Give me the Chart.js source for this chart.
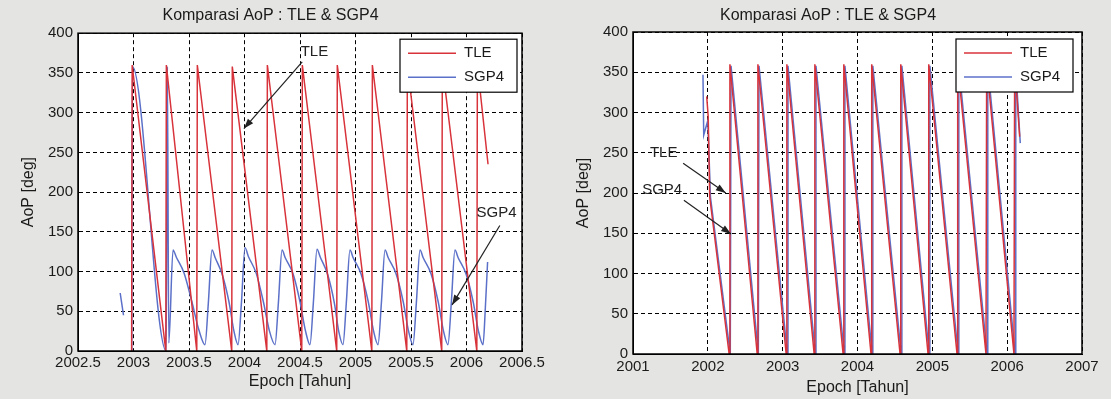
<!DOCTYPE html>
<html>
<head>
<meta charset="utf-8">
<script src="https://cdn.jsdelivr.net/npm/chart.js@4"></script>
<style>
  body { margin: 0; background: #e4e4e2; }
  #wrap { position: relative; width: 1111px; height: 399px; }
  canvas { position: absolute; top: 0; }
  #left { left: 0; }
  #right { left: 555px; }
</style>
</head>
<body>
<div id="wrap">
  <canvas id="left" width="555" height="399"></canvas>
  <canvas id="right" width="556" height="399"></canvas>
</div>
<script>
// text + ticks
const titleText = 'Komparasi AoP : TLE & SGP4'
const xTitle = 'Epoch [Tahun]'
const yTitle = 'AoP [deg]'
const seriesNames = ['TLE', 'SGP4']
const yTicks = [0, 50, 100, 150, 200, 250, 300, 350, 400]
const leftXTicks = [2002.5, 2003, 2003.5, 2004, 2004.5, 2005, 2005.5, 2006, 2006.5]
const leftXLabels = ['2002.5', '2003', '2003.5', '2004', '2004.5', '2005', '2005.5', '2006', '2006.5']
const rightXTicks = [2001, 2002, 2003, 2004, 2005, 2006, 2007]
const rightXLabels = ['2001', '2002', '2003', '2004', '2005', '2006', '2007']

// left chart, TLE (sawtooth)
const leftTleX = [2002.983, 2002.988, 2003.291, 2003.296, 2003.570, 2003.575, 2003.885, 2003.890,
  2004.201, 2004.206, 2004.516, 2004.521, 2004.831, 2004.836, 2005.147, 2005.152,
  2005.462, 2005.467, 2005.777, 2005.782, 2006.093, 2006.098, 2006.194]
const leftTleY = [0, 360, 0, 360, 0, 360, 0, 358,
  0, 360, 0, 360, 0, 360, 0, 360,
  0, 360, 0, 360, 0, 360, 235]

// left chart, SGP4
const leftSgpX = [2002.88, 2002.91, 2002.95, 2002.985, 2002.99, 2003.295, 2003.305, 2003.318,
  2003.356, 2003.386, 2003.456, 2003.526, 2003.59, 2003.644, 2003.674,
  2003.707, 2003.737, 2003.80, 2003.86, 2003.905, 2003.942, 2003.972,
  2004.005, 2004.035, 2004.105, 2004.17, 2004.225, 2004.275, 2004.305,
  2004.338, 2004.368, 2004.438, 2004.50, 2004.55, 2004.59, 2004.62,
  2004.653, 2004.683, 2004.75, 2004.81, 2004.85, 2004.887, 2004.917,
  2004.950, 2004.98, 2005.05, 2005.115, 2005.163, 2005.203, 2005.233,
  2005.266, 2005.296, 2005.366, 2005.43, 2005.478, 2005.518, 2005.548,
  2005.581, 2005.611, 2005.681, 2005.745, 2005.793, 2005.833, 2005.863,
  2005.896, 2005.926, 2005.996, 2006.06, 2006.108, 2006.149, 2006.17, 2006.19]
const leftSgpY = [73, 45, null, 0, 358, 0, 358, 10,
  127, 118, 98, 62, 26, 8, 60,
  127, 117, 96, 62, 25, 8, 60,
  130, 119, 98, 62, 25, 8, 60,
  127, 117, 97, 62, 25, 8, 60,
  128, 118, 96, 60, 24, 8, 60,
  127, 117, 97, 62, 25, 8, 60,
  127, 117, 97, 62, 25, 8, 60,
  127, 117, 97, 62, 25, 8, 60,
  127, 117, 97, 62, 25, 8, 55, 112]

// right chart, TLE
const rightTleX = [2001.985, 2002.005, 2002.025, 2002.285, 2002.295, 2002.660, 2002.669,
  2003.047, 2003.056, 2003.421, 2003.430, 2003.808, 2003.817, 2004.181, 2004.190,
  2004.569, 2004.578, 2004.943, 2004.952, 2005.330, 2005.339, 2005.717, 2005.726,
  2006.091, 2006.100, 2006.167]
const rightTleY = [320, 295, 195, 0, 360, 0, 360,
  0, 360, 0, 360, 0, 360, 0, 360,
  0, 360, 0, 360, 0, 360, 0, 360,
  0, 360, 270]

// right chart, SGP4
const rightSgpX = [2001.935, 2001.945, 2002.000, 2002.035, 2002.300, 2002.310, 2002.675, 2002.684,
  2003.062, 2003.071, 2003.436, 2003.445, 2003.823, 2003.832, 2004.196, 2004.205,
  2004.584, 2004.593, 2004.958, 2004.967, 2005.345, 2005.354, 2005.732, 2005.741,
  2006.106, 2006.115, 2006.175]
const rightSgpY = [347, 272, 290, 195, 0, 358, 0, 358,
  0, 358, 0, 358, 0, 358, 0, 358,
  0, 358, 0, 358, 0, 358, 0, 358,
  0, 355, 262]

// arrow notes, in data units
const leftNotes = [
  { text: 'TLE', x: 2004.63, y: 376, fromX: 2004.52, fromY: 364, toX: 2003.995, toY: 280 },
  { text: 'SGP4', x: 2006.27, y: 174, fromX: 2006.30, fromY: 158, toX: 2005.87, toY: 58 }
]
const rightNotes = [
  { text: 'TLE', x: 2001.41, y: 250, fromX: 2001.67, fromY: 237, toX: 2002.24, toY: 200 },
  { text: 'SGP4', x: 2001.39, y: 204, fromX: 2001.68, fromY: 191, toX: 2002.31, toY: 149 }
]

const red = '#d8333b'
const blue = '#5b70c8'
const font = 'Liberation Sans, Arial, sans-serif'

Chart.defaults.font.family = font
Chart.defaults.color = '#1a1a1a'

function pts(xs, ys) {
  return xs.map((x, i) => ({ x: x, y: ys[i] }))
}

function arrow(ctx, x1, y1, x2, y2) {
  ctx.beginPath()
  ctx.moveTo(x1, y1)
  ctx.lineTo(x2, y2)
  ctx.stroke()
  const a = Math.atan2(y2 - y1, x2 - x1)
  ctx.beginPath()
  ctx.moveTo(x2, y2)
  ctx.lineTo(x2 - 10 * Math.cos(a) + 3.5 * Math.sin(a), y2 - 10 * Math.sin(a) - 3.5 * Math.cos(a))
  ctx.lineTo(x2 - 10 * Math.cos(a) - 3.5 * Math.sin(a), y2 - 10 * Math.sin(a) + 3.5 * Math.cos(a))
  ctx.closePath()
  ctx.fill()
}

// white axes box, frame, notes and legend drawn like the matlab figure
const matlabLook = {
  id: 'matlabLook',
  beforeDraw(chart) {
    const a = chart.chartArea
    const ctx = chart.ctx
    ctx.save()
    ctx.fillStyle = '#ffffff'
    ctx.fillRect(a.left, a.top, a.right - a.left, a.bottom - a.top)
    ctx.restore()
  },
  afterDatasetsDraw(chart, args, opts) {
    const a = chart.chartArea
    const ctx = chart.ctx
    const xs = chart.scales.x, ys = chart.scales.y
    ctx.save()
    // notes
    ctx.strokeStyle = '#222'
    ctx.fillStyle = '#222'
    ctx.lineWidth = 1.2
    ctx.font = '15px ' + font
    ctx.textAlign = 'center'
    ctx.textBaseline = 'middle'
    opts.notes.forEach(n => {
      ctx.fillText(n.text, xs.getPixelForValue(n.x), ys.getPixelForValue(n.y))
      arrow(ctx, xs.getPixelForValue(n.fromX), ys.getPixelForValue(n.fromY),
        xs.getPixelForValue(n.toX), ys.getPixelForValue(n.toY))
    })
    // frame
    ctx.strokeStyle = '#000'
    ctx.lineWidth = 1.5
    ctx.strokeRect(a.left, a.top, a.right - a.left, a.bottom - a.top)
    // legend
    const w = 117, h = 53
    const bx = a.right - opts.legendRight - w, by = a.top + opts.legendTop
    ctx.fillStyle = '#fff'
    ctx.fillRect(bx, by, w, h)
    ctx.lineWidth = 1.2
    ctx.strokeRect(bx, by, w, h)
    ctx.textAlign = 'left'
    chart.data.datasets.forEach((ds, i) => {
      const ly = by + 14 + i * 24
      ctx.strokeStyle = ds.borderColor
      ctx.lineWidth = 1.5
      ctx.beginPath()
      ctx.moveTo(bx + 8, ly)
      ctx.lineTo(bx + 56, ly)
      ctx.stroke()
      ctx.fillStyle = '#1a1a1a'
      ctx.fillText(ds.label, bx + 64, ly)
    })
    ctx.restore()
  }
}

function makeChart(id, tle, sgp, xTicks, xLabels, notes, lay) {
  return new Chart(document.getElementById(id), {
    type: 'line',
    data: {
      datasets: [
        { label: seriesNames[0], data: tle, borderColor: red, borderWidth: 1.5, pointRadius: 0, tension: 0 },
        { label: seriesNames[1], data: sgp, borderColor: blue, borderWidth: 1.5, pointRadius: 0,
          cubicInterpolationMode: lay.smooth ? 'monotone' : 'default' }
      ]
    },
    options: {
      responsive: false,
      animation: false,
      devicePixelRatio: 1,
      spanGaps: false,
      layout: { padding: { left: 19, right: lay.right, top: 0, bottom: lay.bottom } },
      plugins: {
        legend: { display: false },
        tooltip: { enabled: false },
        title: {
          display: true, text: titleText, color: '#1a1a1a',
          font: { size: 16, weight: 'normal' },
          padding: { top: 6, bottom: lay.titleBottom }
        },
        matlabLook: { notes: notes, legendRight: lay.legendRight, legendTop: lay.legendTop }
      },
      scales: {
        x: {
          type: 'linear',
          min: xTicks[0], max: xTicks[xTicks.length - 1],
          afterBuildTicks: s => { s.ticks = xTicks.map(v => ({ value: v })) },
          afterFit: s => { s.height = lay.xHeight },
          ticks: {
            autoSkip: false, maxRotation: 0, padding: lay.xPad,
            font: { size: 15 }, color: '#1a1a1a',
            callback: (v, i) => xLabels[i]
          },
          grid: { color: '#000', lineWidth: 1, drawTicks: false },
          border: { display: true, color: '#000', dash: [4, 3] },
          title: { display: true, text: xTitle, font: { size: 16 }, color: '#1a1a1a', padding: 0 }
        },
        y: {
          min: 0, max: 400,
          afterBuildTicks: s => { s.ticks = yTicks.map(v => ({ value: v })) },
          afterFit: s => { s.width = 59 },
          ticks: { padding: 5, font: { size: 15 }, color: '#1a1a1a' },
          grid: { color: '#000', lineWidth: 1, drawTicks: false },
          border: { display: true, color: '#000', dash: [4, 3] },
          title: { display: true, text: yTitle, font: { size: 16 }, color: '#1a1a1a', padding: 0 }
        }
      }
    },
    plugins: [matlabLook]
  })
}

makeChart('left', pts(leftTleX, leftTleY), pts(leftSgpX, leftSgpY), leftXTicks, leftXLabels, leftNotes,
  { right: 33, bottom: 7.4, xHeight: 40.6, xPad: 3, titleBottom: 8, legendRight: 5, legendTop: 6, smooth: true })
makeChart('right', pts(rightTleX, rightTleY), pts(rightSgpX, rightSgpY), rightXTicks, rightXLabels, rightNotes,
  { right: 29, bottom: 1.4, xHeight: 43.6, xPad: 4, titleBottom: 6.8, legendRight: 9, legendTop: 7, smooth: false })
</script>
</body>
</html>
